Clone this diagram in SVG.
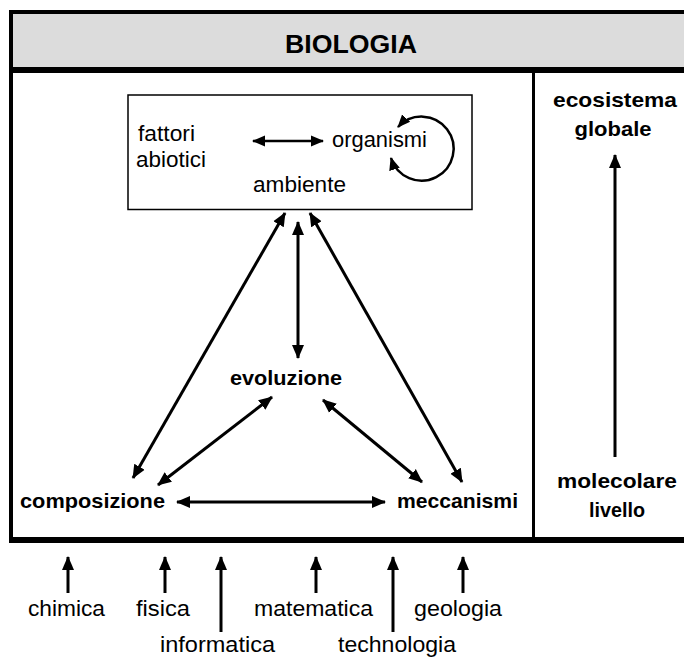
<svg xmlns="http://www.w3.org/2000/svg" width="684" height="659" viewBox="0 0 684 659">
<defs>
<marker id="ah" markerUnits="userSpaceOnUse" markerWidth="14" markerHeight="14" viewBox="0 0 14 14" refX="13" refY="7" orient="auto-start-reverse">
<path d="M0,1 L14,7 L0,13 Z" fill="#000"/>
</marker>
<marker id="ahs" markerUnits="userSpaceOnUse" markerWidth="13" markerHeight="13" viewBox="0 0 13 13" refX="12" refY="6.5" orient="auto-start-reverse">
<path d="M0,1 L13,6.5 L0,12 Z" fill="#000"/>
</marker>
</defs>
<style>
.r{font-family:"Liberation Sans",Arial,sans-serif;font-size:22.5px;fill:#000}
.b{font-family:"Liberation Sans",Arial,sans-serif;font-size:20.5px;font-weight:bold;fill:#000}
.c{stroke:#000;stroke-width:3;fill:none;marker-end:url(#ah)}
.d{stroke:#000;stroke-width:3;fill:none;marker-start:url(#ah);marker-end:url(#ah)}
.s{stroke:#000;stroke-width:2.5;fill:none;marker-start:url(#ahs);marker-end:url(#ahs)}
</style>
<rect width="684" height="659" fill="#fff"/>
<g id="frame">
<rect x="10" y="13" width="674" height="55" fill="#dcdcdc"/>
<path d="M684,12 H11 V543" stroke="#000" stroke-width="4" fill="none"/>
<path d="M11,70 H684" stroke="#000" stroke-width="6"/>
<path d="M9,540 H684" stroke="#000" stroke-width="6"/>
<path d="M533.5,73 V538" stroke="#000" stroke-width="3"/>
<text class="b" x="351" y="53" text-anchor="middle" textLength="132" lengthAdjust="spacingAndGlyphs" style="font-size:26.5px">BIOLOGIA</text>
</g>
<g id="ambiente">
<rect x="128" y="95" width="344" height="114.5" fill="none" stroke="#000" stroke-width="1.5"/>
<text class="r" x="138" y="141" textLength="57" lengthAdjust="spacingAndGlyphs">fattori</text>
<text class="r" x="136" y="167" textLength="70" lengthAdjust="spacingAndGlyphs">abiotici</text>
<text class="r" x="332" y="147" textLength="95" lengthAdjust="spacingAndGlyphs">organismi</text>
<text class="r" x="253" y="192" textLength="93" lengthAdjust="spacingAndGlyphs">ambiente</text>
<path class="s" d="M253,141 H323"/>
<path class="s" d="M398,127 A32,32 0 1 1 391,158"/>
</g>
<g id="evoluzione"><text class="b" x="230" y="385" textLength="112" lengthAdjust="spacingAndGlyphs">evoluzione</text></g>
<g id="composizione"><text class="b" x="20" y="508" textLength="145" lengthAdjust="spacingAndGlyphs">composizione</text></g>
<g id="meccanismi"><text class="b" x="397" y="508" textLength="121" lengthAdjust="spacingAndGlyphs">meccanismi</text></g>
<g id="ecosistema"><text class="b" x="615" y="107" text-anchor="middle" textLength="124" lengthAdjust="spacingAndGlyphs">ecosistema</text>
<text class="b" x="613" y="136" text-anchor="middle" textLength="77" lengthAdjust="spacingAndGlyphs">globale</text></g>
<g id="molecolare"><text class="b" x="617" y="488" text-anchor="middle" textLength="120" lengthAdjust="spacingAndGlyphs">molecolare</text>
<text class="b" x="617" y="517" text-anchor="middle" textLength="56" lengthAdjust="spacingAndGlyphs">livello</text></g>
<g id="disciplines">
<text class="r" x="28" y="616" textLength="77" lengthAdjust="spacingAndGlyphs">chimica</text>
<text class="r" x="136" y="616" textLength="54" lengthAdjust="spacingAndGlyphs">fisica</text>
<text class="r" x="254" y="616" textLength="119" lengthAdjust="spacingAndGlyphs">matematica</text>
<text class="r" x="414" y="616" textLength="88" lengthAdjust="spacingAndGlyphs">geologia</text>
<text class="r" x="160" y="652" textLength="115" lengthAdjust="spacingAndGlyphs">informatica</text>
<text class="r" x="338" y="652" textLength="118" lengthAdjust="spacingAndGlyphs">technologia</text>
</g>
<g id="connectors">
<path class="d" d="M133,478 L285,213"/>
<path class="d" d="M298,222 V358"/>
<path class="d" d="M462,482 L310,213"/>
<path class="d" d="M158,485 L272,397"/>
<path class="d" d="M422,482 L323,400"/>
<path class="d" d="M177,502 H385"/>
<path class="c" d="M615,457 V155"/>
<path class="c" d="M68,593 V557"/>
<path class="c" d="M165,593 V557"/>
<path class="c" d="M221,632 V557"/>
<path class="c" d="M316,593 V557"/>
<path class="c" d="M393,632 V557"/>
<path class="c" d="M463,593 V557"/>
</g>
</svg>
